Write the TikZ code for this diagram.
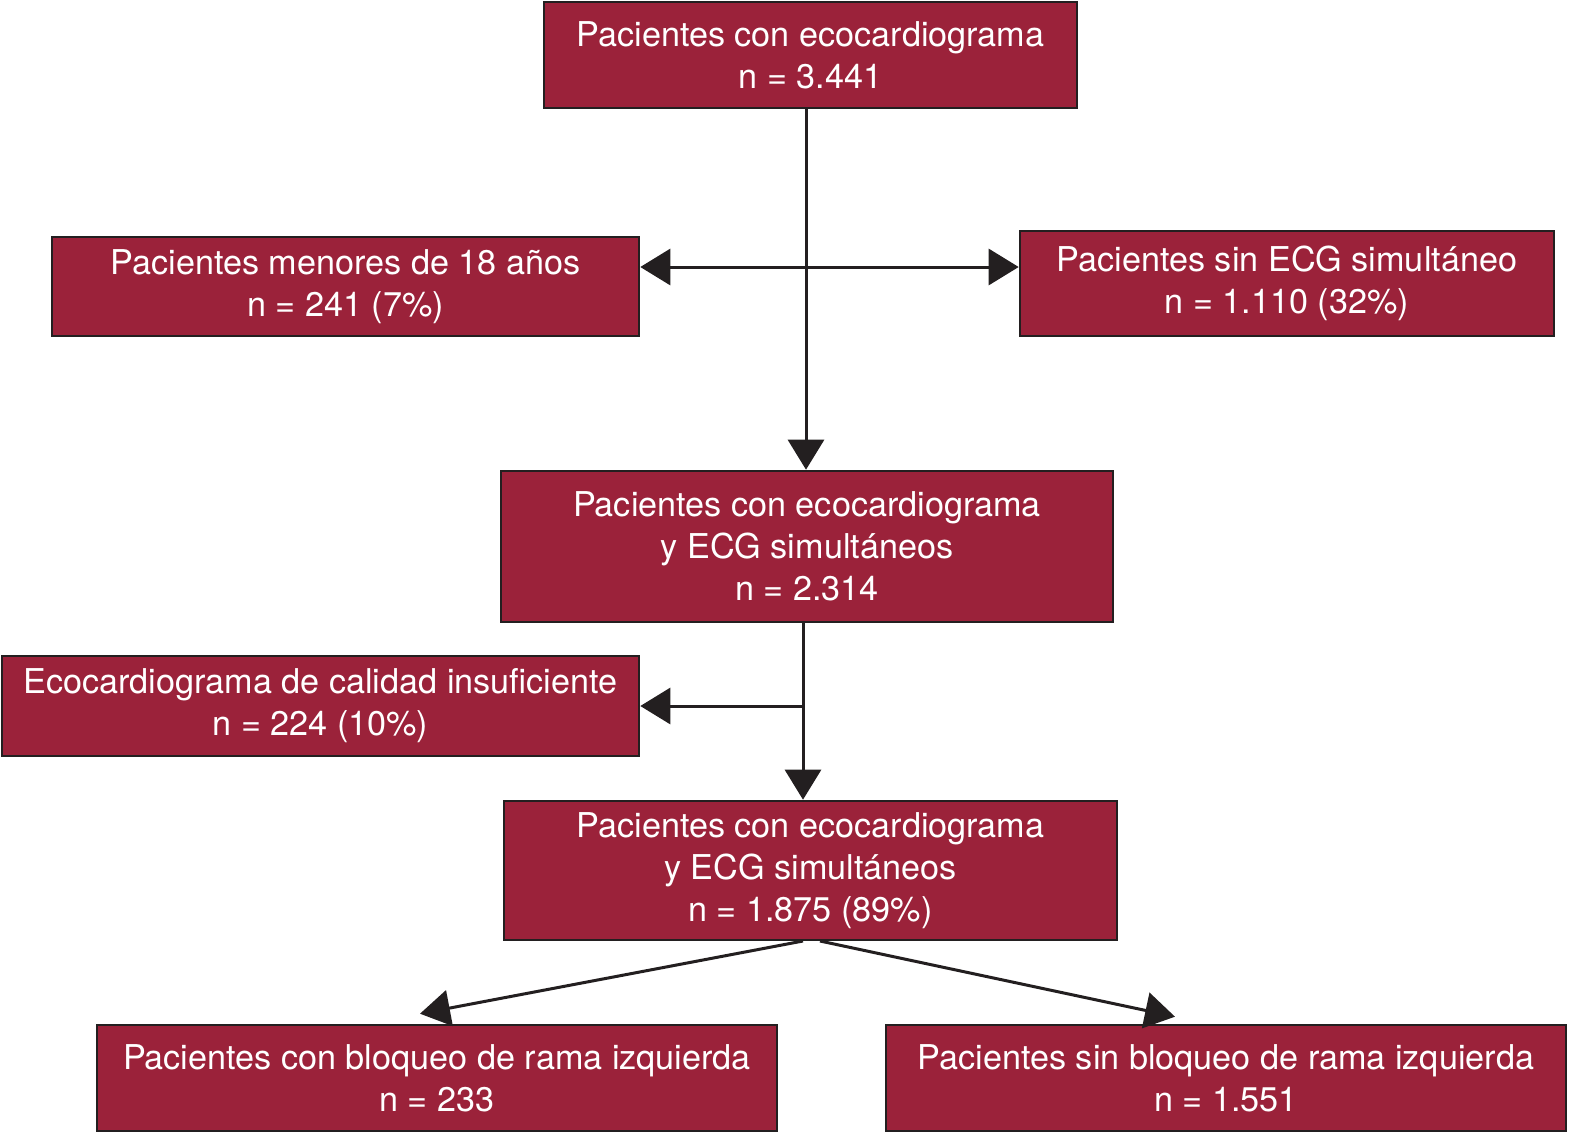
\documentclass[tikz,border=0pt]{standalone}
\usepackage{fontspec}
\setmainfont{TeX Gyre Heros}
\usetikzlibrary{arrows.meta,calc}
\definecolor{boxred}{RGB}{155,34,58}
\definecolor{edge}{RGB}{35,31,32}
\tikzset{
  fbox/.style={draw=edge, line width=1.3pt, fill=boxred, text=white, align=center,
    inner sep=0pt, font=\fontsize{17.1}{21}\selectfont},
  arr/.style={draw=edge, line width=1.5pt, -{Triangle[length=15pt,width=18pt]}},
  ln/.style={draw=edge, line width=1.5pt}
}
\begin{document}
\begin{tikzpicture}[x=0.5pt,y=-0.5pt]
\useasboundingbox (0,0) rectangle (1586,1146);
\node[fbox, minimum width=266.5pt, minimum height=53pt] (top) at (810.5,55) {Pacientes con ecocardiograma\\n = 3.441};
\node[fbox, minimum width=293.5pt, minimum height=49.5pt] (l1) at (345.5,286.5) {Pacientes menores de 18 años\\n = 241 (7\%)};
\node[fbox, minimum width=267pt, minimum height=52.5pt] (r1) at (1287,283.5) {Pacientes sin ECG simultáneo\\n = 1.110 (32\%)};
\node[fbox, minimum width=306pt, minimum height=75.5pt] (mid) at (807,546.5) {Pacientes con ecocardiograma\\y ECG simultáneos\\n = 2.314};
\node[fbox, minimum width=318.5pt, minimum height=50pt] (l2) at (320.5,706) {Ecocardiograma de calidad insuficiente\\n = 224 (10\%)};
\node[fbox, minimum width=306.5pt, minimum height=69.5pt] (mid2) at (810.5,870.5) {Pacientes con ecocardiograma\\y ECG simultáneos\\n = 1.875 (89\%)};
\node[fbox, minimum width=340pt, minimum height=53pt] (bl) at (437,1078) {Pacientes con bloqueo de rama izquierda\\n = 233};
\node[fbox, minimum width=340pt, minimum height=53pt] (br) at (1226,1078) {Pacientes sin bloqueo de rama izquierda\\n = 1.551};
\coordinate (j1) at (806,267);
\coordinate (j2) at (803,706);
\coordinate (s1) at (803,941);
\coordinate (s2) at (820,941);
\draw[arr] (top.south -| j1) -- (mid.north -| j1);
\draw[arr] (j1) -- (l1.east |- j1);
\draw[arr] (j1) -- (r1.west |- j1);
\draw[arr] (mid.south -| j2) -- (mid2.north -| j2);
\draw[arr] (j2) -- (l2.east |- j2);
\draw[arr] (s1) -- ($(bl.north)+(-17,-10)$);
\draw[arr] (s2) -- ($(br.north)+(-51,-7)$);
\end{tikzpicture}
\end{document}
